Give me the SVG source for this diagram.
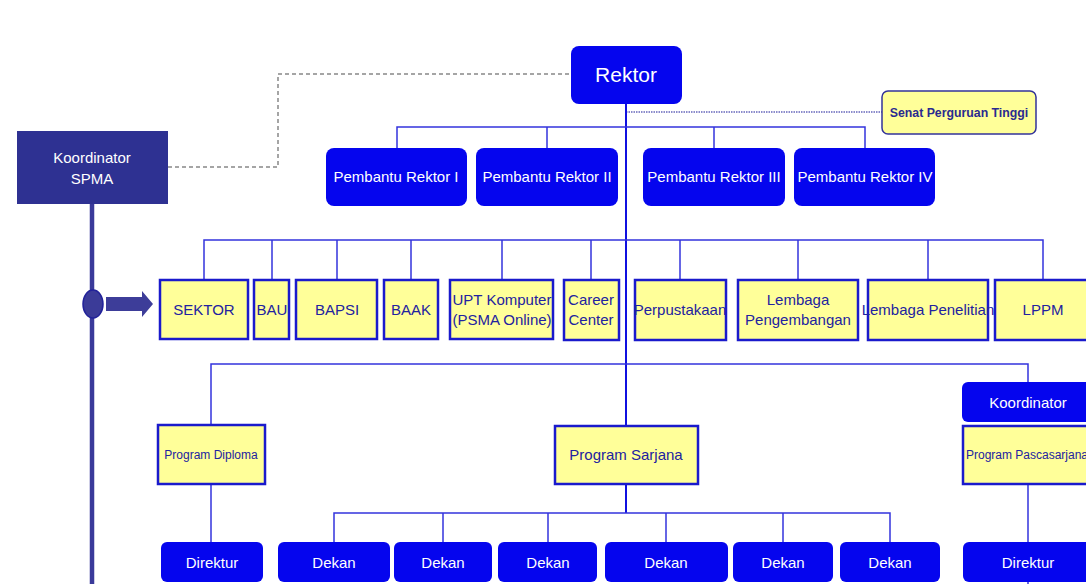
<svg xmlns="http://www.w3.org/2000/svg" width="1086" height="584" viewBox="0 0 1086 584">
<style>
.blue{fill:#0505ee;}
.yel{fill:#ffff99;stroke:#1a1acc;stroke-width:2.5;}
.wt{fill:#ffffff;font-family:"Liberation Sans",Arial,sans-serif;font-size:15px;text-anchor:middle;}
.yt{fill:#2222a0;font-family:"Liberation Sans",Arial,sans-serif;font-size:15px;text-anchor:middle;}
.ys{fill:#2222a0;font-family:"Liberation Sans",Arial,sans-serif;font-size:12px;text-anchor:middle;}
.ln{stroke:#3333dd;stroke-width:1.5;fill:none;}
</style>
<rect width="1086" height="584" fill="#ffffff"/>
<g id="connectors">
<polyline points="168,167 278,167 278,74 571,74" fill="none" stroke="#888888" stroke-width="1.5" stroke-dasharray="4,3"/>
<line x1="626" y1="112" x2="882" y2="112" stroke="#6666bb" stroke-width="1.5" stroke-dasharray="1.5,1"/>
<line x1="626" y1="104" x2="626" y2="426" stroke="#1010e0" stroke-width="2"/>
<line x1="626" y1="484" x2="626" y2="513" stroke="#1010e0" stroke-width="2"/>
<polyline class="ln" points="397,148 397,127 865,127 865,148"/>
<line class="ln" x1="547" y1="127" x2="547" y2="148"/>
<line class="ln" x1="714" y1="127" x2="714" y2="148"/>
<polyline class="ln" points="204,280 204,240 1043,240 1043,280"/>
<line class="ln" x1="272" y1="240" x2="272" y2="280"/>
<line class="ln" x1="337" y1="240" x2="337" y2="280"/>
<line class="ln" x1="411" y1="240" x2="411" y2="280"/>
<line class="ln" x1="502" y1="240" x2="502" y2="280"/>
<line class="ln" x1="591" y1="240" x2="591" y2="280"/>
<line class="ln" x1="680" y1="240" x2="680" y2="280"/>
<line class="ln" x1="798" y1="240" x2="798" y2="280"/>
<line class="ln" x1="928" y1="240" x2="928" y2="280"/>
<polyline class="ln" points="211,425 211,364 1028,364 1028,382"/>
<line class="ln" x1="211" y1="484" x2="211" y2="542"/>
<polyline class="ln" points="334,542 334,513 890,513 890,542"/>
<line class="ln" x1="443" y1="513" x2="443" y2="542"/>
<line class="ln" x1="548" y1="513" x2="548" y2="542"/>
<line class="ln" x1="666" y1="513" x2="666" y2="542"/>
<line class="ln" x1="783" y1="513" x2="783" y2="542"/>
<line class="ln" x1="1028" y1="484" x2="1028" y2="542"/>
<line class="ln" x1="1028" y1="582" x2="1028" y2="584"/>
<line x1="92" y1="204" x2="92" y2="584" stroke="#3a3a9a" stroke-width="4.5"/>
<ellipse cx="93" cy="304" rx="10" ry="14" fill="#3b3b98" stroke="#22229a" stroke-width="1.5"/>
<polygon points="106,297 142,297 142,291 153,304 142,317 142,311 106,311" fill="#3d3d99"/>
</g>
<g id="koordinator-spma"><rect x="17" y="131" width="151" height="73" fill="#2e3192"/><text class="wt" x="92" y="163">Koordinator</text><text class="wt" x="92" y="184">SPMA</text></g>
<g id="rektor"><rect class="blue" x="571" y="46" width="111" height="58" rx="8"/><text class="wt" x="626" y="82" style="font-size:21px">Rektor</text></g>
<g id="senat"><rect x="882" y="91" width="154" height="43" rx="6" fill="#ffff99" stroke="#333399" stroke-width="1.5"/><text x="959" y="117" fill="#2a2a90" font-family="Liberation Sans,Arial,sans-serif" font-size="12.3" font-weight="bold" text-anchor="middle">Senat Perguruan Tinggi</text></g>
<g id="pr1"><rect class="blue" x="326" y="148" width="141" height="58" rx="8"/><text class="wt" x="396" y="182">Pembantu Rektor I</text></g>
<g id="pr2"><rect class="blue" x="476" y="148" width="142" height="58" rx="8"/><text class="wt" x="547" y="182">Pembantu Rektor II</text></g>
<g id="pr3"><rect class="blue" x="643" y="148" width="142" height="58" rx="8"/><text class="wt" x="714" y="182">Pembantu Rektor III</text></g>
<g id="pr4"><rect class="blue" x="794" y="148" width="141" height="58" rx="8"/><text class="wt" x="865" y="182">Pembantu Rektor IV</text></g>
<g id="sektor"><rect class="yel" x="160" y="280" width="88" height="59"/><text class="yt" x="204" y="315">SEKTOR</text></g>
<g id="bau"><rect class="yel" x="254" y="280" width="35" height="59"/><text class="yt" x="272" y="315">BAU</text></g>
<g id="bapsi"><rect class="yel" x="296" y="280" width="81" height="59"/><text class="yt" x="337" y="315">BAPSI</text></g>
<g id="baak"><rect class="yel" x="384" y="280" width="54" height="59"/><text class="yt" x="411" y="315">BAAK</text></g>
<g id="upt"><rect class="yel" x="450" y="280" width="103" height="59"/><text class="yt" x="502" y="305">UPT Komputer</text><text class="yt" x="502" y="325">(PSMA Online)</text></g>
<g id="career"><rect class="yel" x="564" y="280" width="55" height="60"/><text class="yt" x="591" y="305">Career</text><text class="yt" x="591" y="325">Center</text></g>
<g id="perpustakaan"><rect class="yel" x="635" y="280" width="91" height="60"/><text class="yt" x="680" y="315">Perpustakaan</text></g>
<g id="lembaga-pengembangan"><rect class="yel" x="738" y="280" width="120" height="60"/><text class="yt" x="798" y="305">Lembaga</text><text class="yt" x="798" y="325">Pengembangan</text></g>
<g id="lembaga-penelitian"><rect class="yel" x="868" y="280" width="120" height="60"/><text class="yt" x="928" y="315">Lembaga Penelitian</text></g>
<g id="lppm"><rect class="yel" x="995" y="280" width="100" height="60"/><text class="yt" x="1043" y="315">LPPM</text></g>
<g id="program-diploma"><rect class="yel" x="158" y="425" width="107" height="59"/><text class="ys" x="211" y="459">Program Diploma</text></g>
<g id="program-sarjana"><rect class="yel" x="555" y="426" width="143" height="58"/><text class="yt" x="626" y="460">Program Sarjana</text></g>
<g id="koordinator"><rect class="blue" x="962" y="382" width="134" height="40" rx="6"/><text class="wt" x="1028" y="408">Koordinator</text></g>
<g id="program-pascasarjana"><rect class="yel" x="963" y="426" width="133" height="58"/><text class="ys" x="1027" y="459">Program Pascasarjana</text></g>
<g id="direktur1"><rect class="blue" x="161" y="542" width="102" height="40" rx="6"/><text class="wt" x="212" y="568">Direktur</text></g>
<g id="dekan1"><rect class="blue" x="278" y="542" width="112" height="40" rx="6"/><text class="wt" x="334" y="568">Dekan</text></g>
<g id="dekan2"><rect class="blue" x="394" y="542" width="98" height="40" rx="6"/><text class="wt" x="443" y="568">Dekan</text></g>
<g id="dekan3"><rect class="blue" x="498" y="542" width="99" height="40" rx="6"/><text class="wt" x="548" y="568">Dekan</text></g>
<g id="dekan4"><rect class="blue" x="605" y="542" width="123" height="40" rx="6"/><text class="wt" x="666" y="568">Dekan</text></g>
<g id="dekan5"><rect class="blue" x="733" y="542" width="100" height="40" rx="6"/><text class="wt" x="783" y="568">Dekan</text></g>
<g id="dekan6"><rect class="blue" x="840" y="542" width="100" height="40" rx="6"/><text class="wt" x="890" y="568">Dekan</text></g>
<g id="direktur2"><rect class="blue" x="963" y="542" width="133" height="40" rx="6"/><text class="wt" x="1028" y="568">Direktur</text></g>
</svg>
